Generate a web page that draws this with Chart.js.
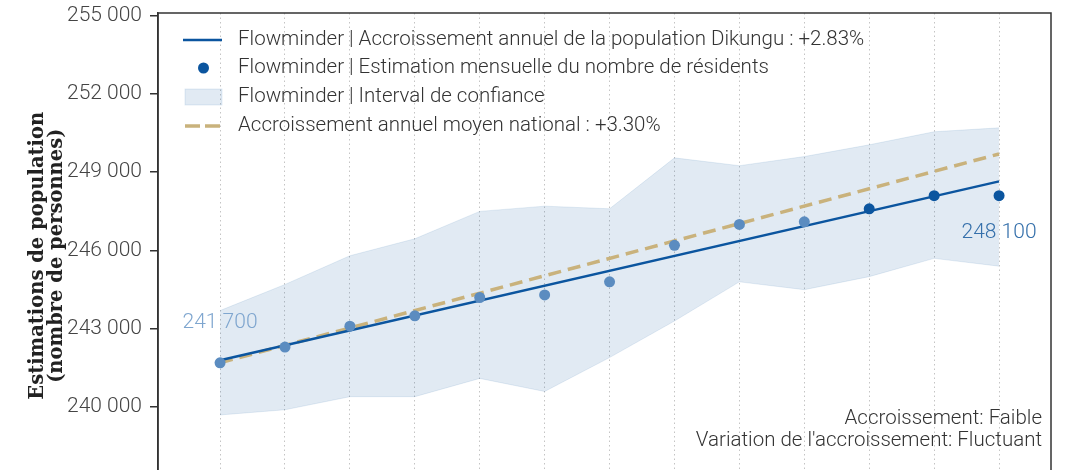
<!DOCTYPE html>
<html>
<head>
<meta charset="utf-8">
<script src="https://cdn.jsdelivr.net/npm/chart.js@4.4.1/dist/chart.umd.min.js"></script>
<style>
  html, body { margin: 0; padding: 0; background: #fff; overflow: hidden; }
  #wrap { width: 1071px; height: 470px; overflow: hidden; position: relative; }
  canvas { display: block; }
</style>
</head>
<body>
<div id="wrap"><canvas id="c" width="1071" height="504"></canvas></div>
<script>
// ---- Data ----
const months = ['M1','M2','M3','M4','M5','M6','M7','M8','M9','M10','M11','M12','M13'];
const estimates = [241700, 242300, 243100, 243500, 244200, 244300, 244800, 246200, 247000, 247100, 247600, 248100, 248100];
const ciUpper = [243700, 244700, 245800, 246450, 247500, 247700, 247600, 249550, 249250, 249600, 250050, 250550, 250700];
const ciLower = [239700, 239900, 240400, 240400, 241100, 240600, 241900, 243300, 244800, 244500, 245000, 245700, 245400];
const trendStartEnd = [241800, 248650];       // Dikungu annual growth +2.83%
const nationalStartEnd = [241700, 249700];    // national annual growth +3.30%
const yTickValues = [240000, 243000, 246000, 249000, 252000, 255000];
const legendLabels = [
  'Flowminder | Accroissement annuel de la population Dikungu : +2.83%',
  'Flowminder | Estimation mensuelle du nombre de résidents',
  'Flowminder | Interval de confiance',
  'Accroissement annuel moyen national : +3.30%'
];
const cornerNotes = ['Accroissement: Faible', "Variation de l'accroissement: Fluctuant"];
const yTitle = ['Estimations de population', '(nombre de personnes)'];

// ---- Styles ----
const BLUE = '#0b559f';
const BLUE_LIGHT = '#5b8cc0';
const TAN = '#c9b27c';
const BAND = 'rgba(11,85,159,0.12)';
const BAND_EDGE = 'rgba(11,85,159,0.10)';
const FONT = 'Roboto';

const fmt = v => String(Math.round(v)).replace(/\B(?=(\d{3})+(?!\d))/g, ' ');
const idx = months.map((_, i) => i);
const last = months.length - 1;
const pointColors = estimates.map((_, i) => i >= 10 ? BLUE : BLUE_LIGHT);

const framePlugin = {
  id: 'frame',
  afterDraw(chart) {
    const {ctx, chartArea: a} = chart;
    ctx.save();
    ctx.strokeStyle = '#333';
    ctx.lineWidth = 1.5;
    ctx.strokeRect(a.left, a.top, a.right - a.left, a.bottom - a.top);
    ctx.restore();
  }
};

const annotPlugin = {
  id: 'annot',
  afterDraw(chart) {
    const {ctx, scales: {x, y}} = chart;
    ctx.save();
    ctx.font = `300 21px ${FONT}`;
    ctx.textAlign = 'center';
    ctx.textBaseline = 'middle';
    ctx.fillStyle = '#7fa6cf';
    ctx.fillText(fmt(estimates[0]), x.getPixelForValue(0), y.getPixelForValue(estimates[0]) - 40);
    ctx.fillStyle = '#3570ab';
    ctx.fillText(fmt(estimates[last]), x.getPixelForValue(last), y.getPixelForValue(estimates[last]) + 37);
    ctx.font = `300 20.5px ${FONT}`;
    ctx.fillStyle = '#333';
    ctx.textAlign = 'right';
    const a = chart.chartArea;
    ctx.fillText(cornerNotes[0], a.right - 9, 419);
    ctx.fillText(cornerNotes[1], a.right - 9, 441);
    ctx.restore();
  }
};

const legendPlugin = {
  id: 'customLegend',
  afterDraw(chart) {
    const {ctx} = chart;
    const x0 = 183, x1 = 222, tx = 238;
    const ys = [40, 68, 97, 126];
    ctx.save();
    ctx.strokeStyle = BLUE; ctx.lineWidth = 2.5;
    ctx.beginPath(); ctx.moveTo(x0, ys[0]); ctx.lineTo(x1, ys[0]); ctx.stroke();
    ctx.fillStyle = BLUE;
    ctx.beginPath(); ctx.arc((x0 + x1) / 2 + 1, ys[1], 5.5, 0, Math.PI * 2); ctx.fill();
    ctx.fillStyle = BAND; ctx.strokeStyle = 'rgba(11,85,159,0.10)'; ctx.lineWidth = 1;
    ctx.fillRect(x0 + 2, ys[2] - 8, x1 - x0 - 2, 16);
    ctx.strokeRect(x0 + 2, ys[2] - 8, x1 - x0 - 2, 16);
    ctx.strokeStyle = TAN; ctx.lineWidth = 3.5; ctx.setLineDash([15, 5]);
    ctx.beginPath(); ctx.moveTo(x0 + 2, ys[3]); ctx.lineTo(x1, ys[3]); ctx.stroke();
    ctx.setLineDash([]);
    ctx.font = `300 20.5px ${FONT}`;
    ctx.fillStyle = '#333';
    ctx.textAlign = 'left'; ctx.textBaseline = 'middle';
    legendLabels.forEach((t, i) => ctx.fillText(t, tx, ys[i]));
    ctx.restore();
  }
};

new Chart(document.getElementById('c'), {
  type: 'line',
  data: {
    datasets: [
      {
        label: legendLabels[1],
        data: idx.map(i => ({x: i, y: estimates[i]})),
        showLine: false,
        pointRadius: 5.5,
        pointHoverRadius: 5.5,
        pointBackgroundColor: pointColors,
        pointBorderWidth: 0,
        order: 0
      },
      {
        label: legendLabels[0],
        data: [{x: 0, y: trendStartEnd[0]}, {x: last, y: trendStartEnd[1]}],
        borderColor: BLUE,
        borderWidth: 2.5,
        pointRadius: 0,
        fill: false,
        order: 1
      },
      {
        label: legendLabels[3],
        data: [{x: 0, y: nationalStartEnd[0]}, {x: last, y: nationalStartEnd[1]}],
        borderColor: TAN,
        borderWidth: 3.5,
        borderDash: [13, 7],
        pointRadius: 0,
        fill: false,
        order: 2
      },
      {
        label: legendLabels[2],
        data: idx.map(i => ({x: i, y: ciUpper[i]})),
        borderColor: BAND_EDGE,
        borderWidth: 1,
        backgroundColor: BAND,
        pointRadius: 0,
        fill: '+1',
        order: 3
      },
      {
        label: 'ci-lower',
        data: idx.map(i => ({x: i, y: ciLower[i]})),
        borderColor: BAND_EDGE,
        borderWidth: 1,
        pointRadius: 0,
        fill: false,
        order: 4
      }
    ]
  },
  options: {
    responsive: false,
    animation: false,
    layout: { padding: { left: 0, right: 20, top: 13, bottom: 3 } },
    plugins: { legend: { display: false }, tooltip: { enabled: false } },
    scales: {
      x: {
        type: 'linear',
        min: -0.956,
        max: 12.8,
        afterBuildTicks: s => { s.ticks = idx.map(v => ({value: v})); },
        afterFit: s => { s.height = 0; s.paddingLeft = 0; s.paddingRight = 0; },
        ticks: { display: false },
        grid: { color: '#c4c4c4', lineWidth: 1, drawTicks: false },
        border: { display: false, dash: [1.5, 3] }
      },
      y: {
        min: 236500,
        max: 255100,
        afterBuildTicks: s => { s.ticks = yTickValues.map(v => ({value: v})); },
        afterFit: s => { s.width = 158; s.paddingTop = 0; s.paddingBottom = 0; },
        ticks: {
          font: { family: FONT, size: 21, weight: '300' },
          color: '#444',
          padding: 8,
          callback: v => fmt(v)
        },
        grid: { drawOnChartArea: false, drawTicks: true, tickLength: 8, color: '#333', lineWidth: 1.5 },
        border: { display: true, color: '#333', width: 1.5 },
        title: {
          display: true,
          text: yTitle,
          font: { family: 'DejaVu Serif', size: 19.5, weight: 'bold', lineHeight: 1.0 },
          color: '#222',
          padding: { top: 28, bottom: 0 }
        }
      }
    }
  },
  plugins: [framePlugin, annotPlugin, legendPlugin]
});
</script>
</body>
</html>
